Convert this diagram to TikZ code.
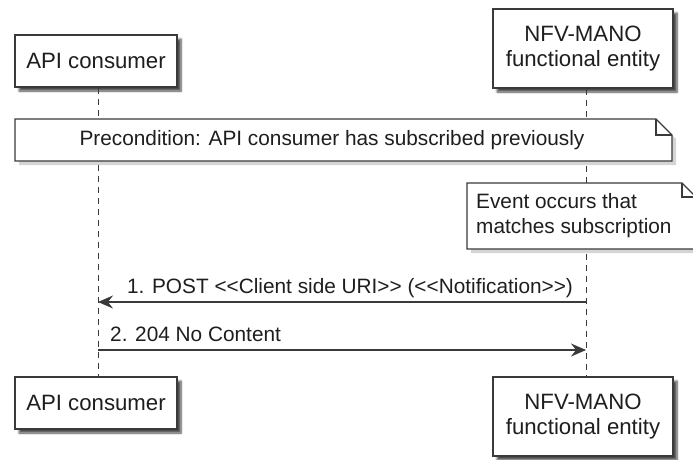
\documentclass[tikz,border=0pt]{standalone}
\usepackage{fontspec}
\setmainfont{Liberation Sans}
\usetikzlibrary{arrows.meta,shadows.blur}
\definecolor{linec}{HTML}{3A3A3A}
\definecolor{textc}{HTML}{1E1E1E}
\begin{document}
\begin{tikzpicture}[x=1pt,y=-1pt,
  participant/.style={draw=linec,line width=1.3pt,fill=white,inner sep=0pt,
    align=center,text=textc,font=\fontsize{22.2}{25}\selectfont,
    blur shadow={shadow xshift=4pt,shadow yshift=-4pt,shadow blur steps=6,shadow opacity=70}},
  lifeline/.style={draw=linec,line width=0.9pt,dash pattern=on 6pt off 5pt},
  msg/.style={draw=linec,line width=1.1pt,-{Stealth[length=15pt,width=13pt,inset=5pt]}},
  lbl/.style={text=textc,font=\fontsize{20.8}{24}\selectfont,inner sep=0pt},
  notebox/.style={draw=linec,line width=1.1pt,fill=white},
  noteshadow/.style={fill=gray!60,opacity=0.55},
  notetxt/.style={text=textc,font=\fontsize{20.8}{25}\selectfont,inner sep=0pt,align=left}]
\useasboundingbox (0,0) rectangle (693,459);
% participants
\node[participant,minimum width=162pt,minimum height=52pt] (apiT) at (96,61) {API consumer};
\node[participant,minimum width=180pt,minimum height=79pt] (nfvT) at (583,48.5) {NFV-MANO\\functional entity};
\node[participant,minimum width=162pt,minimum height=52pt] (apiB) at (96,403) {API consumer};
\node[participant,minimum width=180pt,minimum height=79pt] (nfvB) at (583,416.5) {NFV-MANO\\functional entity};
% lifelines
\coordinate (aT) at (98,87.7);
\coordinate (aB) at (98,376.3);
\coordinate (nT) at (586,88.7);
\coordinate (nB) at (586,376.3);
\draw[lifeline] (aT) -- (aB);
\draw[lifeline] (nT) -- (nB);
% precondition note
\fill[noteshadow] (19,123) -- (660,123) -- (676,139) -- (676,165) -- (19,165) -- cycle;
\draw[notebox] (15,119) -- (656,119) -- (672,135) -- (672,161) -- (15,161) -- cycle;
\draw[linec,line width=1.1pt] (656,119) -- (656,135) -- (672,135);
\node[notetxt] (pre) at (332,140) {Precondition: API consumer has subscribed previously};
% event note
\fill[noteshadow] (471,187) -- (686,187) -- (700,201) -- (700,253) -- (471,253) -- cycle;
\draw[notebox] (467,183) -- (682,183) -- (696,197) -- (696,249) -- (467,249) -- cycle;
\draw[linec,line width=1.1pt] (682,183) -- (682,197) -- (696,197);
\node[notetxt,anchor=north west] (ev) at (476,193) {Event occurs that\\matches subscription};
% messages
\coordinate (n1) at (586,302);
\coordinate (a1) at (98,302);
\coordinate (a2) at (98,350);
\coordinate (n2) at (586,350);
\draw[msg] (n1) -- (a1);
\node[lbl] (m1) at (350,288) {1. POST <{}<Client side URI>{}> (<{}<Notification>{}>)};
\draw[msg] (a2) -- (n2);
\node[lbl,anchor=west] (m2) at (110,334) {2. 204 No Content};
\end{tikzpicture}
\end{document}
